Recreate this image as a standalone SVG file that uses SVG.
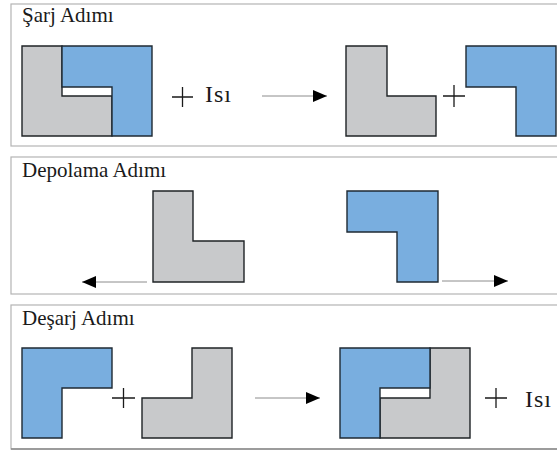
<svg xmlns="http://www.w3.org/2000/svg" width="557" height="450" viewBox="0 0 557 450">
  <style>
    .panel { fill: #ffffff; stroke: #b4b4b4; stroke-width: 1.2; }
    .title { font-family: "Liberation Serif", "Times New Roman", serif; font-size: 21px; fill: #1a1a1a; }
    .heat { font-family: "Liberation Serif", "Times New Roman", serif; font-size: 24px; letter-spacing: 1px; fill: #1a1a1a; }
    .blue { fill: #79aedf; stroke: #1f2a33; stroke-width: 1.4; stroke-linejoin: miter; }
    .gray { fill: #c8c9cb; stroke: #1f2326; stroke-width: 1.4; stroke-linejoin: miter; }
    .plus { stroke: #1a1a1a; stroke-width: 1.3; fill: none; }
    .flow { stroke: #8c8c8c; stroke-width: 1; fill: none; marker-end: url(#head); }
  </style>
  <defs>
    <marker id="head" viewBox="0 0 14 12" refX="14" refY="6" markerWidth="14" markerHeight="12" markerUnits="userSpaceOnUse" orient="auto">
      <path d="M0,0 L14,6 L0,12 Z" fill="#000000"/>
    </marker>
  </defs>

  <!-- step frames -->
  <g id="frames">
    <rect class="panel" x="11" y="4" width="560" height="142"/>
    <rect class="panel" x="11" y="157" width="560" height="137"/>
    <rect class="panel" x="11" y="305" width="560" height="144"/>
    <line x1="11" y1="449" x2="557" y2="449" stroke="#8a8a8a" stroke-width="1.5"/>
  </g>

  <!-- charge step -->
  <g id="charge">
    <text class="title" x="22" y="22">Şarj Adımı</text>
    <g id="charge-pair">
      <path class="gray" d="M22,46 H62 V96 H112 V136 H22 Z"/>
      <path class="blue" d="M62,46 H152 V136 H112 V87 H62 Z"/>
    </g>
    <path class="plus" d="M172,97 H193 M182.5,87 V107"/>
    <text class="heat" x="205" y="102">Isı</text>
    <g id="charge-gray">
      <path class="gray" d="M346,46 H387 V96 H436 V136 H346 Z"/>
    </g>
    <path class="plus" d="M443,96 H465 M454,85 V107"/>
    <g id="charge-blue">
      <path class="blue" d="M466,46 H556 V136 H516 V87 H466 Z"/>
    </g>
  </g>

  <!-- storage step -->
  <g id="storage">
    <text class="title" x="22" y="177">Depolama Adımı</text>
    <g id="storage-gray">
      <path class="gray" d="M153,191 H193 V241 H244 V282 H153 Z"/>
    </g>
    <g id="storage-blue">
      <path class="blue" d="M347,191 H438 V282 H397 V232 H347 Z"/>
    </g>
  </g>

  <!-- discharge step -->
  <g id="discharge">
    <text class="title" x="22" y="325">Deşarj Adımı</text>
    <g id="discharge-blue">
      <path class="blue" d="M22,348 H112 V388 H62 V438 H22 Z"/>
    </g>
    <path class="plus" d="M112,398 H135 M123.5,388 V408"/>
    <g id="discharge-gray">
      <path class="gray" d="M192,348 H232 V438 H142 V398 H192 Z"/>
    </g>
    <g id="discharge-pair">
      <path class="gray" d="M430,348 H470 V438 H380 V398 H430 Z"/>
      <path class="blue" d="M340,348 H430 V388 H380 V438 H340 Z"/>
    </g>
    <path class="plus" d="M485,398 H507 M496,388 V408"/>
    <text class="heat" x="525" y="407">Isı</text>
  </g>

  <!-- connectors -->
  <g id="connectors">
    <line class="flow" x1="262" y1="96" x2="327" y2="96"/>
    <line class="flow" x1="147" y1="282" x2="82" y2="282"/>
    <line class="flow" x1="442" y1="281" x2="508" y2="281"/>
    <line class="flow" x1="255" y1="398" x2="320" y2="398"/>
  </g>
</svg>
